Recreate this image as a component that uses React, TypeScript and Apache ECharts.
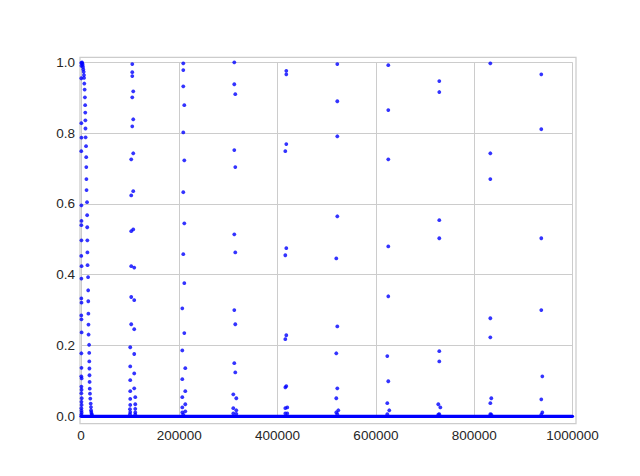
import React, { useEffect, useRef } from "react";
import * as echarts from "echarts";

// x tick values and y tick values
const xTicks = [0, 200000, 400000, 600000, 800000, 1000000];
const yTicks = [0, 0.2, 0.4, 0.6, 0.8, 1.0];

// baseline of points lying on y = 0 (dense row of markers)
const baselineX = [0, 1000000];
const baselineY = [0, 0];

// cluster near x = 0: left column
const clusterA0: [number, number][] = [
  [500, 0.998], [800, 0.99], [600, 0.955], [700, 0.828], [900, 0.787], [600, 0.749],
  [800, 0.596], [1000, 0.552], [700, 0.54], [900, 0.497], [600, 0.453], [1100, 0.424],
  [800, 0.389], [700, 0.333], [1000, 0.321], [600, 0.285], [900, 0.274], [1200, 0.237],
  [700, 0.178], [1000, 0.137], [600, 0.113], [1300, 0.107], [800, 0.084], [1100, 0.075],
  [700, 0.065], [1400, 0.051], [900, 0.041], [1200, 0.032], [700, 0.023], [1000, 0.016],
  [1300, 0.01], [600, 0.005],
];

// cluster near x = 0: curved column
const clusterA1: [number, number][] = [
  [2000, 1.0], [2600, 0.997], [3400, 0.993], [4000, 0.987], [4700, 0.98], [5400, 0.973],
  [6000, 0.964], [6200, 0.956], [6700, 0.94], [7400, 0.923], [8000, 0.901], [8500, 0.879],
  [8700, 0.858], [8900, 0.836], [9100, 0.813], [9300, 0.788], [10300, 0.763], [10600, 0.732],
  [10800, 0.704], [11000, 0.67], [11300, 0.639], [12300, 0.605], [12500, 0.568], [12700, 0.534],
  [12900, 0.497], [13100, 0.463], [13300, 0.427], [14400, 0.393], [14600, 0.356], [14800, 0.325],
  [15000, 0.29], [15200, 0.259], [15400, 0.231], [16500, 0.202], [16700, 0.179], [16900, 0.155],
  [17100, 0.135], [17300, 0.116], [17500, 0.097], [17800, 0.078], [18300, 0.064], [18900, 0.05],
  [19700, 0.036], [20300, 0.026], [20500, 0.017], [21000, 0.012], [21500, 0.007], [22300, 0.004],
];

const clusterB: [number, number][] = [
  [104300, 0.995], [104300, 0.972], [104300, 0.961], [106300, 0.918], [104300, 0.901],
  [106300, 0.839], [104300, 0.819], [106300, 0.743], [102200, 0.726], [106300, 0.636],
  [102200, 0.624], [106300, 0.528], [102200, 0.523], [102200, 0.424], [108300, 0.42],
  [102200, 0.337], [108300, 0.328], [102200, 0.26], [108300, 0.246], [100200, 0.195],
  [108300, 0.176], [100200, 0.141], [108300, 0.121], [100200, 0.102], [108300, 0.079],
  [100200, 0.071], [110400, 0.054], [100200, 0.049], [100200, 0.032], [110400, 0.034],
  [99600, 0.02], [100200, 0.012], [110400, 0.021], [110400, 0.011], [99600, 0.006], [110400, 0.005],
];

const clusterC: [number, number][] = [
  [208100, 0.997], [208100, 0.978], [208100, 0.932], [210200, 0.879], [208100, 0.802],
  [210200, 0.723], [208100, 0.633], [210200, 0.545], [208100, 0.458], [210200, 0.376],
  [206100, 0.305], [210200, 0.235], [206100, 0.186], [212200, 0.136], [206100, 0.105],
  [212200, 0.071], [206100, 0.054], [212200, 0.034], [206100, 0.025], [212200, 0.014],
  [206100, 0.011], [208100, 0.005],
];

const clusterD: [number, number][] = [
  [311900, 1.0], [311900, 0.938], [313900, 0.91], [311900, 0.752], [313900, 0.704],
  [311900, 0.514], [313900, 0.463], [311900, 0.3], [313900, 0.26], [311900, 0.15],
  [313900, 0.124], [309900, 0.062], [316000, 0.051], [309900, 0.023], [316000, 0.017],
  [309900, 0.008], [316000, 0.007],
];

const clusterE: [number, number][] = [
  [417700, 0.976], [417700, 0.966], [417700, 0.769], [415700, 0.749], [417700, 0.475],
  [415700, 0.455], [417700, 0.229], [415700, 0.218], [415700, 0.082], [417700, 0.085],
  [415700, 0.023], [419700, 0.025], [415700, 0.008], [419700, 0.008],
];

const clusterF: [number, number][] = [
  [521500, 0.995], [521500, 0.89], [521500, 0.791], [521500, 0.565], [519400, 0.446],
  [521500, 0.254], [519400, 0.178], [521500, 0.079], [519400, 0.051], [523500, 0.017],
  [519400, 0.011], [521500, 0.006],
];

const clusterG: [number, number][] = [
  [625200, 0.992], [625200, 0.865], [625200, 0.726], [625200, 0.48], [625200, 0.339],
  [623200, 0.17], [625200, 0.099], [623200, 0.037], [627200, 0.017], [623200, 0.006],
];

const clusterH: [number, number][] = [
  [729000, 0.947], [729000, 0.916], [729000, 0.554], [729000, 0.503], [729000, 0.184],
  [729000, 0.155], [727000, 0.034], [731100, 0.025], [729000, 0.006], [727000, 0.005],
];

const clusterI: [number, number][] = [
  [832800, 0.997], [832800, 0.743], [832800, 0.67], [832800, 0.277], [832800, 0.223],
  [834800, 0.051], [832800, 0.037], [832800, 0.006], [834800, 0.005],
];

const clusterJ: [number, number][] = [
  [936500, 0.966], [936500, 0.811], [936500, 0.503], [936500, 0.3], [938600, 0.113],
  [936500, 0.048], [938600, 0.011], [936500, 0.005],
];

const W = 640;
const H = 476;

export default function App() {
  const ref = useRef<HTMLDivElement>(null);

  useEffect(() => {
    if (!ref.current) return;
    const chart = echarts.init(ref.current, null, { renderer: "svg", width: W, height: H });

    const scatterData = [
      ...clusterA0, ...clusterA1, ...clusterB, ...clusterC, ...clusterD,
      ...clusterE, ...clusterF, ...clusterG, ...clusterH, ...clusterI, ...clusterJ,
    ];
    const baseline = baselineX.map((x, i) => [x, baselineY[i]]);

    const labelStyle = {
      color: "#262626",
      fontFamily: "Liberation Sans, Arial, sans-serif",
      fontSize: 13.5,
    };

    chart.setOption({
      animation: false,
      backgroundColor: "#ffffff",
      grid: {
        left: 81,
        right: W - 572.5,
        top: 62.3,
        bottom: H - 416.3,
        containLabel: false,
        outerBoundsMode: "none",
      },
      xAxis: {
        type: "value",
        min: xTicks[0],
        max: xTicks[xTicks.length - 1],
        interval: xTicks[1] - xTicks[0],
        axisLine: { show: false },
        axisTick: { show: false },
        splitLine: { show: true, lineStyle: { color: "#cccccc", width: 1 } },
        axisLabel: {
          ...labelStyle,
          margin: 12,
          formatter: (v: number) => String(v),
        },
      },
      yAxis: {
        type: "value",
        min: yTicks[0],
        max: yTicks[yTicks.length - 1],
        interval: 0.2,
        axisLine: { show: false },
        axisTick: { show: false },
        splitLine: { show: true, lineStyle: { color: "#cccccc", width: 1 } },
        axisLabel: {
          ...labelStyle,
          margin: 6,
          formatter: (v: number) => v.toFixed(1),
        },
      },
      graphic: [
        {
          type: "rect",
          z: 0,
          silent: true,
          shape: { x: 80, y: 57.3, width: 496, height: 366.3 },
          style: { fill: "none", stroke: "#cccccc", lineWidth: 1.25 },
        },
      ],
      series: [
        {
          type: "line",
          data: baseline,
          symbol: "none",
          clip: false,
          lineStyle: { color: "#0000ff", width: 3.2, cap: "round" },
          z: 3,
        },
        {
          type: "scatter",
          data: scatterData,
          symbol: "circle",
          symbolSize: 3.8,
          clip: false,
          itemStyle: { color: "#0000ff" },
          z: 4,
        },
      ],
    });

    return () => chart.dispose();
  }, []);

  return (
    <div
      ref={ref}
      style={{ position: "absolute", left: 0, top: 0, width: W, height: H }}
    />
  );
}
